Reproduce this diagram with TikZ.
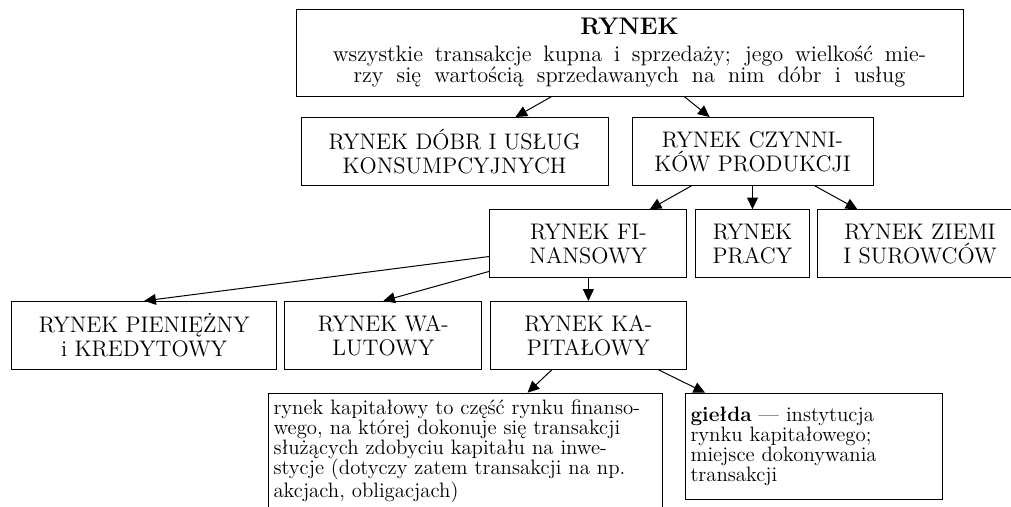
\documentclass[tikz,border=0pt]{standalone}
\usepackage{fontspec}
\usepackage{tikz}
\usetikzlibrary{arrows.meta}

\begin{document}
\begin{tikzpicture}[
  x=0.6pt,y=-0.6pt,
  market/.style={draw,line width=0.6pt,minimum height=40.8pt,
                 align=center,font=\fontsize{13.5}{14.4}\selectfont,inner sep=2pt},
  note/.style={draw,line width=0.6pt,anchor=north west,align=left,
               font=\fontsize{12.5}{12}\selectfont,inner xsep=3pt,inner ysep=4pt},
  arr/.style={-{Triangle[length=7pt,width=6.5pt]},line width=0.6pt},
]
\useasboundingbox (0,0) rectangle (1011,506);
% level 1
\node[market,font=\fontsize{13.4}{12.6}\selectfont,minimum width=400.2pt,minimum height=52.2pt] (rynek) at (629.5,52.5)
  {{\Large\bfseries RYNEK}\\[4pt]
   \makebox[356pt][s]{wszystkie transakcje kupna i sprzedaży; jego wielkość mie-}\\
   \makebox[331pt][s]{rzy się wartością sprzedawanych na nim dóbr i usług}};
% level 2
\node[market,minimum width=184.2pt] (dobr) at (454.5,151.5) {RYNEK DÓBR I USŁUG\\KONSUMPCYJNYCH};
\node[market,minimum width=144.6pt] (czynniki) at (752.5,151.5) {RYNEK CZYNNI-\\KÓW PRODUKCJI};
% level 3
\node[market,minimum width=118.2pt] (finansowy) at (588.4,243.8) {RYNEK FI-\\NANSOWY};
\node[market,minimum width=68pt] (pracy) at (752.5,243.8) {RYNEK\\PRACY};
\node[market,minimum width=123.5pt] (ziemi) at (920,243.8) {RYNEK ZIEMI\\I SUROWCÓW};
% level 4
\node[market,minimum width=159pt] (pieniezny) at (144.2,335.4) {RYNEK PIENIĘŻNY\\i KREDYTOWY};
\node[market,minimum width=118pt] (walutowy) at (383.3,335.4) {RYNEK WA-\\LUTOWY};
\node[market,minimum width=117.8pt] (kapitalowy) at (588.4,335.4) {RYNEK KA-\\PITAŁOWY};
% opisy
\node[note,text width=230.4pt,minimum height=69pt] (opis) at (268,392.7)
  {rynek kapitałowy to część rynku finanso-\\
   wego, na której dokonuje się transakcji\\
   służących zdobyciu kapitału na inwe-\\
   stycje (dotyczy zatem transakcji na np.\\
   akcjach, obligacjach)};
\node[note,text width=148.2pt,minimum height=63.6pt] (gielda) at (685,392.7)
  {\textbf{giełda} — instytucja\\
   rynku kapitałowego;\\
   miejsce dokonywania\\
   transakcji};
% strzalki
\draw[arr] (rynek) -- (dobr);
\draw[arr] (rynek) -- (czynniki);
\draw[arr] (czynniki) -- (finansowy);
\draw[arr] (czynniki) -- (pracy);
\draw[arr] (czynniki) -- (ziemi);
\draw[arr] (finansowy) -- (pieniezny.north);
\draw[arr] (finansowy) -- (walutowy.north);
\draw[arr] (finansowy) -- (kapitalowy);
\draw[arr] (kapitalowy) -- (opis);
\draw[arr] (kapitalowy) -- (gielda);
\end{tikzpicture}
\end{document}
